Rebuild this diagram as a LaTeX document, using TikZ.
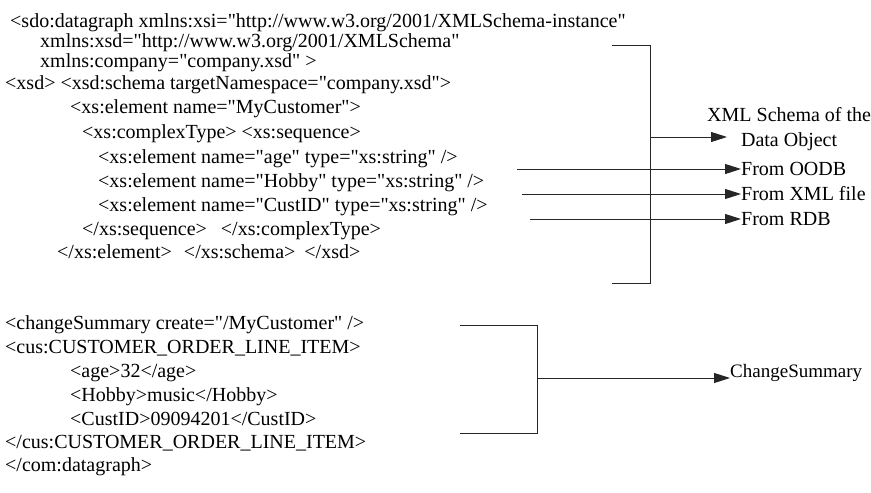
\documentclass[tikz,border=0pt]{standalone}
\usepackage{fontspec}
\setmainfont{Liberation Serif}[Ligatures=TeXOff]
\usetikzlibrary{arrows.meta,calc}
\begin{document}
\begin{tikzpicture}[x=1pt,y=-1pt,
  code/.style={anchor=base west,inner sep=0pt,font=\fontsize{20}{24}\selectfont},
  lbl/.style={anchor=west,inner sep=0pt,font=\fontsize{20}{24}\selectfont},
  wire/.style={line width=0.9pt,draw=black!85},
  arr/.style={wire,-{Triangle[length=16pt,width=10pt]}}]
\useasboundingbox (0,0) rectangle (871,493);

% schema part of the data graph
\node[code] (l1)  at (10,27)  {<sdo:datagraph xmlns:xsi="http://www.w3.org/2001/XMLSchema-instance"};
\node[code] (l2)  at (40,47)  {xmlns:xsd="http://www.w3.org/2001/XMLSchema"};
\node[code] (l3)  at (40,67)  {xmlns:company="company.xsd" >};
\node[code] (l4)  at (5,89)   {<xsd> <xsd:schema targetNamespace="company.xsd">};
\node[code] (l5)  at (70,113) {<xs:element name="MyCustomer">};
\node[code] (l6)  at (82,138) {<xs:complexType> <xs:sequence>};
\node[code] (l7)  at (98,163) {<xs:element name="age" type="xs:string" />};
\node[code] (l8)  at (98,187) {<xs:element name="Hobby" type="xs:string" />};
\node[code] (l9)  at (98,211) {<xs:element name="CustID" type="xs:string" />};
\node[code] (l10) at (82,235) {</xs:sequence>\hspace{14pt}</xs:complexType>};
\node[code] (l11) at (57,258) {</xs:element>\hspace{12pt}</xs:schema>\hspace{4pt} </xsd>};

% change summary part
\node[code] (c1) at (5,329)  {<changeSummary create="/MyCustomer" />};
\node[code] (c2) at (5,353)  {<cus:CUSTOMER\_ORDER\_LINE\_ITEM>};
\node[code] (c3) at (70,377) {<age>32</age>};
\node[code] (c4) at (70,401) {<Hobby>music</Hobby>};
\node[code] (c5) at (70,425) {<CustID>09094201</CustID>};
\node[code] (c6) at (5,448)  {</cus:CUSTOMER\_ORDER\_LINE\_ITEM>};
\node[code] (c7) at (5,471)  {</com:datagraph>};

% labels on the right
\node[inner sep=0pt,align=center,font=\fontsize{20}{25}\selectfont,anchor=north west]
  (schema) at (707,107) {XML Schema of the\\Data Object};
\node[lbl] (oodb)    at (741,169) {From OODB};
\node[lbl] (xmlfile) at (741,194) {From XML file};
\node[lbl] (rdb)     at (741,219) {From RDB};
\node[anchor=base west,inner sep=0pt,font=\fontsize{19}{23}\selectfont] (chg) at (730,377) {ChangeSummary};

% bracket around the schema
\coordinate (bt0) at (612,45);
\coordinate (bt1) at (650,45);
\coordinate (bb1) at (650,283);
\coordinate (bb0) at (612,283);
\coordinate (bj)  at (650,137);
\coordinate (btip) at (727,137);
\draw[wire] (bt0) -- (bt1) -- (bb1) -- (bb0);
\draw[arr] (bj) -- (btip);

% origin of each element
\coordinate (a7) at (517,169);
\coordinate (a8) at (522,194);
\coordinate (a9) at (530,219);
\draw[arr] (a7) -- (a7 -| oodb.west);
\draw[arr] (a8) -- (a8 -| xmlfile.west);
\draw[arr] (a9) -- (a9 -| rdb.west);

% bracket around the change summary
\coordinate (ct0) at (460,325);
\coordinate (ct1) at (537,325);
\coordinate (cb1) at (537,433);
\coordinate (cb0) at (460,433);
\coordinate (cj)  at (537,378);
\draw[wire] (ct0) -- (ct1) -- (cb1) -- (cb0);
\draw[arr] (cj) -- (cj -| chg.west);
\end{tikzpicture}
\end{document}
